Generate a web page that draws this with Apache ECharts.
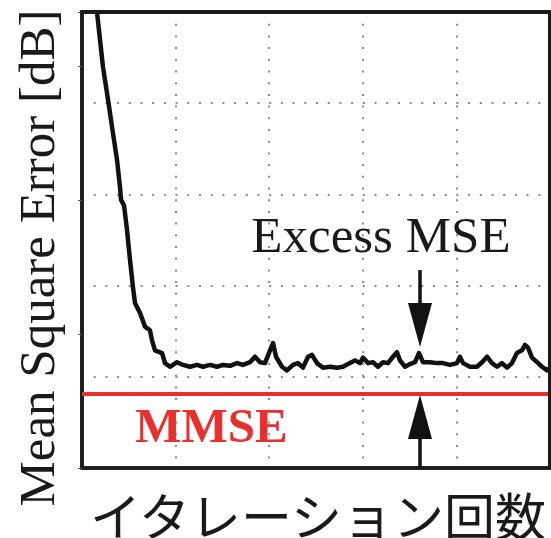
<!DOCTYPE html>
<html><head><meta charset="utf-8">
<script src="https://cdn.jsdelivr.net/npm/echarts@6/dist/echarts.min.js"></script>
<style>html,body{margin:0;padding:0;background:#fff;overflow:hidden}#c{width:551px;height:538px}</style>
</head><body><div id="c"></div>
<script>
// iterations (x) and MSE (y, arbitrary dB units from axis bottom)
const iters = [16.0,22.4,27.8,33.1,37.4,40.6,41.7,44.9,48.1,51.3,54.5,56.6,62.0,67.3,72.6,74.8,78.0,85.5,88.7,94.0,101.5,107.9,115.4,122.9,129.3,136.8,144.2,150.6,158.1,165.6,172.0,179.5,184.8,190.2,195.5,200.9,204.1,207.3,213.7,219.0,225.4,230.8,236.1,241.5,245.7,251.1,257.5,265.0,272.4,278.8,286.3,291.7,297.0,300.2,305.6,310.9,316.2,321.6,326.9,332.3,336.5,339.7,345.1,350.4,355.8,360.0,364.3,371.8,379.3,385.7,393.2,400.6,403.8,407.1,414.5,422.0,427.4,432.7,438.0,443.4,448.7,454.1,459.4,464.7,470.1,473.3,476.5,480.8,486.1,491.5,496.8,500];
const mse = [50.0,44.0,40.4,36.7,33.8,30.8,29.4,28.8,26.1,22.8,19.8,18.1,17.0,15.5,15.1,14.0,12.9,12.6,11.5,11.1,11.6,11.3,11.1,11.3,11.1,11.3,11.1,11.3,11.2,11.5,11.3,11.6,12.2,11.6,11.5,12.9,13.7,12.2,11.1,10.7,11.3,11.5,11.0,12.2,12.4,11.5,11.0,11.1,11.0,11.1,11.5,11.8,11.5,12.1,11.5,11.6,11.1,11.6,11.5,12.2,12.7,11.8,11.1,11.4,11.6,12.6,11.6,11.6,11.5,11.5,11.3,11.5,12.2,11.5,11.1,11.1,11.6,12.2,11.5,11.1,11.5,11.0,11.5,12.6,12.9,13.5,13.2,12.1,11.6,11.1,10.7,11.0];
const mmse = 8.11;
const xRange = [0, 500];
const yRange = [0, 50];
const gridStep = [100, 10];
const oldTickStep = 14.68;
const arrowX = 361.1;
const arrowDown = [21.7, 15.68];
const arrowUp = [0, 5.59];
const excessLabel = {text: 'Excess MSE', x: 319.4, y: 25.5};
const mmseLabel = {text: 'MMSE', x: 138.4, y: 4.7};
const yTitle = 'Mean Square Error [dB]';
const xTitle = 'イタレーション回数';

const chart = echarts.init(document.getElementById('c'), null, {renderer: 'svg'});
const dottedX = {show: true, lineStyle: {color: '#8a8a8a', width: 2, type: [2, 9.7]}};
const dottedY = {show: true, lineStyle: {color: '#8a8a8a', width: 2, type: [2, 9.7]}};
const serif = 'Liberation Serif';
const frame = (w, c) => ({show: true, onZero: false, lineStyle: {color: c, width: w}});
const titles = [
  {id: 'ytitle', type: 'text', x: 37, y: 258, rotation: Math.PI / 2,
   style: {text: yTitle, font: '51px "Liberation Serif"', fill: '#1a1a1a', textAlign: 'center', textVerticalAlign: 'middle'}},
  {id: 'xtitle', type: 'text', x: 318, y: 514,
   style: {text: xTitle, font: '51px "Noto Sans CJK JP"', fill: '#1a1a1a', textAlign: 'center', textVerticalAlign: 'middle'}}
];
chart.setOption({
  animation: false,
  backgroundColor: '#fff',
  grid: {left: 82, right: 1, top: 12, bottom: 70, show: true, borderColor: '#1a1a1a', borderWidth: 3.5, backgroundColor: 'rgba(0,0,0,0)'},
  xAxis: [
    {type: 'value', min: xRange[0], max: xRange[1], interval: gridStep[0], position: 'bottom',
     axisLine: frame(3.5, '#1a1a1a'), axisTick: {show: false}, axisLabel: {show: false}, splitLine: dottedX}
  ],
  yAxis: [
    {type: 'value', min: yRange[0], max: yRange[1], interval: gridStep[1], position: 'left',
     axisLine: frame(3.5, '#1a1a1a'), axisTick: {show: false}, axisLabel: {show: false}, splitLine: dottedY},
    {type: 'value', min: yRange[0], max: yRange[1], interval: oldTickStep, position: 'right',
     axisLine: {show: false},
     axisTick: {show: true, inside: true, length: 4, lineStyle: {color: '#555', width: 1}},
     axisLabel: {show: false}, splitLine: {show: false}}
  ],
  series: [
    {type: 'line', name: 'frame', data: [[xRange[0], yRange[1]], [xRange[1], yRange[1]], [xRange[1], yRange[0]]], symbol: 'none',
     clip: false, silent: true, lineStyle: {color: '#1a1a1a', width: 3.5}, z: 6},
    {type: 'line', name: 'MMSE', data: [[xRange[0], mmse], [xRange[1], mmse]], symbol: 'none',
     lineStyle: {color: '#e8312f', width: 4}, z: 3},
    {type: 'line', name: 'MSE', data: iters.map((v, i) => [v, mse[i]]), symbol: 'none',
     lineStyle: {color: '#111', width: 4.5, join: 'round'}, z: 4,
     markLine: {
       silent: true, symbol: ['none', 'triangle'], symbolSize: [24, 44],
       lineStyle: {color: '#111', width: 3.5, type: 'solid'}, label: {show: false},
       data: [
         [{coord: [arrowX, arrowDown[0]]}, {coord: [arrowX, arrowDown[1]]}],
         [{coord: [arrowX, arrowUp[0]]}, {coord: [arrowX, arrowUp[1]]}]
       ]
     }},
    {type: 'scatter', name: 'labels', symbolSize: 0, z: 5, silent: true,
     itemStyle: {opacity: 1}, emphasis: {disabled: true},
     data: [
       {value: [excessLabel.x, excessLabel.y], label: {show: true, position: 'inside', formatter: excessLabel.text,
         fontFamily: serif, fontSize: 51, color: '#1a1a1a', opacity: 1}},
       {value: [mmseLabel.x, mmseLabel.y], label: {show: true, position: 'inside', formatter: mmseLabel.text,
         fontFamily: serif, fontSize: 49, fontWeight: 'bold', color: '#e8312f', opacity: 1}}
     ]}
  ],
  graphic: titles
});
// frame border (top and right) placed through the axes' scales
const pTL = chart.convertToPixel({gridIndex: 0}, [xRange[0], yRange[1]]);
const pTR = chart.convertToPixel({gridIndex: 0}, [xRange[1], yRange[1]]);
const pBR = chart.convertToPixel({gridIndex: 0}, [xRange[1], yRange[0]]);
chart.setOption({graphic: titles.concat([
  {id: 'frameTop', type: 'polyline', z: 100, silent: true,
   shape: {points: [[pTL[0] - 1.75, pTL[1]], pTR, pBR]},
   style: {stroke: '#1a1a1a', lineWidth: 3.5, fill: null}}
])});
</script></body></html>
